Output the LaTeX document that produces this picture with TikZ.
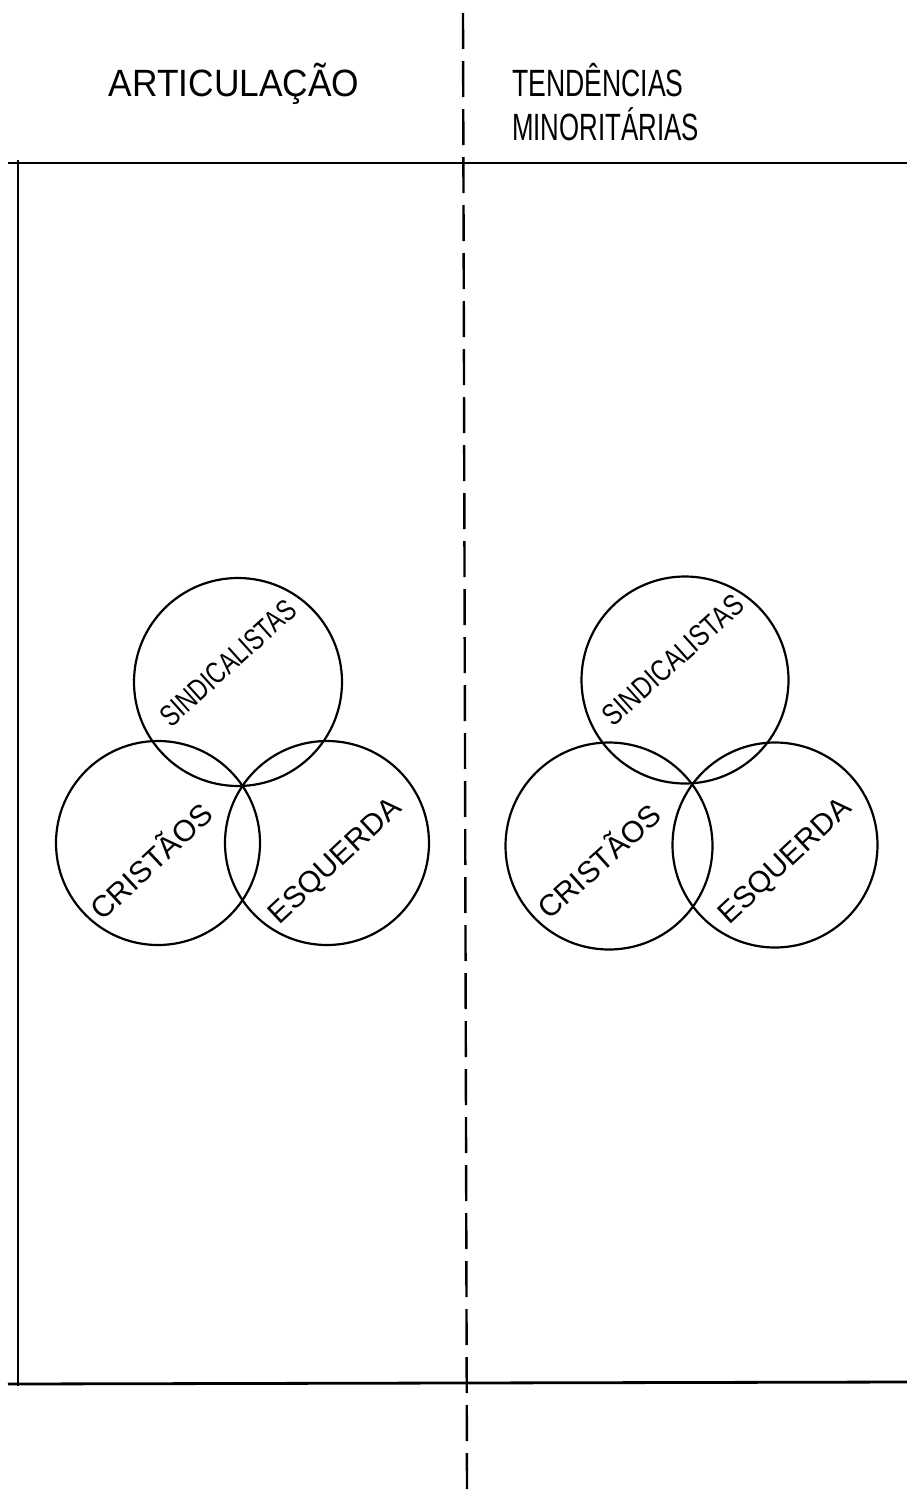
\documentclass[tikz,border=0pt]{standalone}
\usepackage{fontspec}
\setmainfont{Liberation Sans}
\begin{document}
\begin{tikzpicture}[x=1pt,y=-1pt,
  frame/.style={line width=2.8pt,black},
  divider/.style={line width=2.4pt,black,dash pattern=on 36pt off 12pt},
  venn/.style={circle,draw,line width=2.2pt,inner sep=0pt,minimum size=#1},
  header/.style={font=\fontsize{38}{42}\selectfont,inner sep=0pt},
  lab/.style={font=\fontsize{30}{32}\selectfont,inner sep=0pt}]
\useasboundingbox (0,0) rectangle (907,1491);
% frame
\coordinate (tl) at (8,163);
\coordinate (tr) at (907,163);
\coordinate (bl) at (8,1384);
\coordinate (br) at (907,1382);
\coordinate (vt) at (18,160);
\coordinate (vb) at (18,1386);
\coordinate (dt) at (463,13);
\coordinate (db) at (467,1491);
\draw[frame] (tl) -- (tr);
\draw[frame] (bl) -- (br);
\draw[frame] (vt) -- (vb);
\draw[divider] (dt) -- (db);
% headers
\node[header] (h1) at (234,84) {\scalebox{0.93}[1]{ARTICULAÇÃO}};
\node[header,anchor=west] (h2) at (512,80) {\scalebox{0.7}[1]{TENDÊNCIAS}};
\node[header,anchor=west] (h3) at (512,124) {\scalebox{0.68}[1]{MINORITÁRIAS}};
% left venn
\node[venn=208pt] (ls) at (238,682) {};
\node[venn=204pt] (lc) at (158,843) {};
\node[venn=204pt] (le) at (327,843) {};
\node[lab,rotate=42] (lst) at (228,663) {\scalebox{0.77}[1]{SINDICALISTAS}};
\node[lab,rotate=43] (lct) at (150,860) {CRISTÃOS};
\node[lab,rotate=43] (let) at (336,862) {ESQUERDA};
% right venn
\node[venn=207pt] (rs) at (685,680) {};
\node[venn=207pt] (rc) at (609,846) {};
\node[venn=205pt] (re) at (775,845) {};
\node[lab,rotate=42] (rst) at (673,660) {\scalebox{0.8}[1]{SINDICALISTAS}};
\node[lab,rotate=42] (rct) at (598,860) {CRISTÃOS};
\node[lab,rotate=43] (ret) at (786,862) {ESQUERDA};
\end{tikzpicture}
\end{document}
